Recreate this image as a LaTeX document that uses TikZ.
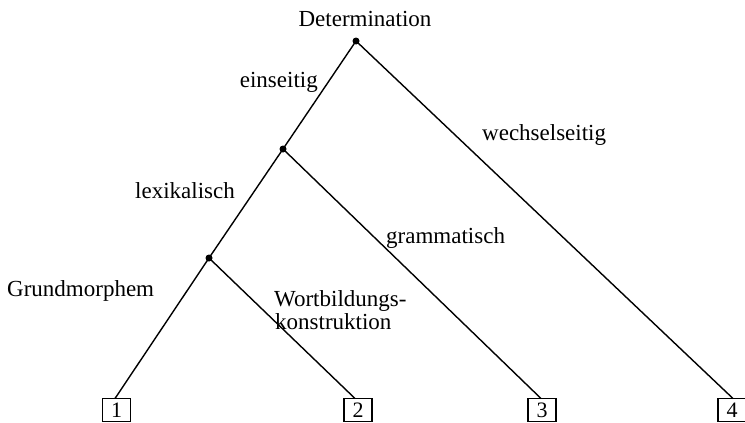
\documentclass[tikz,border=0pt]{standalone}
\usepackage{fontspec}
\setmainfont{Liberation Serif}
\begin{document}
\begin{tikzpicture}[x=1pt,y=-1pt,
  lbl/.style={inner sep=0pt,font=\fontsize{23}{25}\selectfont},
  leaf/.style={draw,line width=1.4pt,minimum width=28pt,minimum height=23pt,inner sep=0pt,font=\fontsize{22}{24}\selectfont},
  dot/.style={circle,fill,inner sep=0pt,minimum size=7pt},
  edge/.style={line width=1.4pt}]
\useasboundingbox (0,0) rectangle (745,423);
\node[lbl,anchor=base] (det) at (365,27) {Determination};
\node[dot] (n0) at (356,41) {};
\node[dot] (n1) at (283,149) {};
\node[dot] (n2) at (209,258) {};
\node[leaf] (b1) at (116.5,410) {1};
\node[leaf] (b2) at (358,410) {2};
\node[leaf] (b3) at (542,410) {3};
\node[leaf] (b4) at (732,410) {4};
\coordinate (t1) at (115,398.5);
\coordinate (t2) at (355,398.5);
\coordinate (t3) at (541,398.5);
\coordinate (t4) at (733,398.5);
\draw[edge] (n0.center) -- (n1.center) -- (n2.center) -- (t1);
\draw[edge] (n0.center) -- (t4);
\draw[edge] (n1.center) -- (t3);
\draw[edge] (n2.center) -- (t2);
\node[lbl,anchor=base east] (l1) at (318,87) {einseitig};
\node[lbl,anchor=base west] (l2) at (482,140) {wechselseitig};
\node[lbl,anchor=base west] (l3) at (135,198) {lexikalisch};
\node[lbl,anchor=base west] (l4) at (386,243) {grammatisch};
\node[lbl,anchor=base west] (l5) at (7,296) {Grundmorphem};
\node[lbl,anchor=base west] (l6) at (274,306) {Wortbildungs-};
\node[lbl,anchor=base west] (l7) at (275,329) {konstruktion};
\end{tikzpicture}
\end{document}
